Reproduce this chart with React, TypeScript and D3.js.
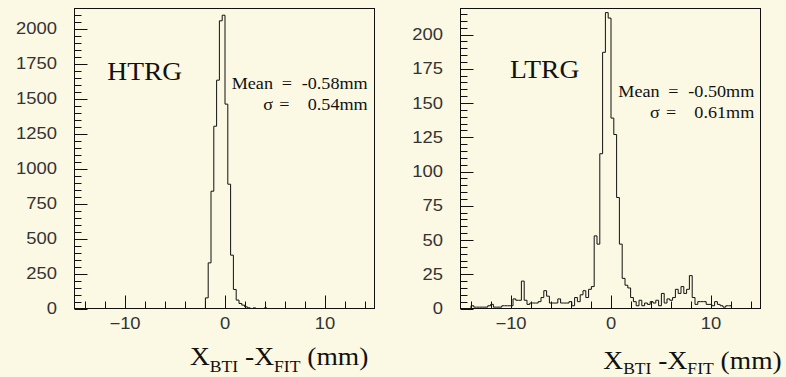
import React from "react";
import * as d3 from "d3";

// ---- data ----
const BIN_WIDTH = 0.28; // mm
const htrgStart = -1.91;
const htrgCounts = [76, 326, 838, 1302, 1631, 2055, 2095, 1460, 888, 381, 136, 60, 36, 24, 12, 5, 0, 4, 0, 0, 0, 4];
const ltrgStart = -13.95;
const ltrgCounts = [
  2, 1, 1, 1, 1, 1, 2, 3, 1, 1,
  1, 2, 2, 2, 2, 7, 6, 6, 20, 6,
  3, 4, 4, 4, 5, 8, 13, 9, 4, 4,
  4, 7, 4, 4, 4, 5, 2, 8, 5, 10,
  13, 8, 14, 16, 53, 47, 113, 187, 216, 212,
  139, 127, 81, 47, 22, 17, 15, 8, 5, 2,
  6, 2, 4, 3, 5, 4, 6, 2, 11, 4,
  7, 6, 8, 14, 11, 16, 11, 14, 24, 8,
  3, 5, 5, 5, 3, 3, 2, 5, 3, 2,
  1, 2, 2,
];
const xTicks = [-10, 0, 10];
const xTickLabels = ["\u221210", "0", "10"];
const htrgYTicks = [0, 250, 500, 750, 1000, 1250, 1500, 1750, 2000];
const ltrgYTicks = [0, 25, 50, 75, 100, 125, 150, 175, 200];
const panelTitles = ["HTRG", "LTRG"];
const meanLabels = ["-0.58mm", "-0.50mm"];
const sigmaLabels = ["0.54mm", "0.61mm"];

const BG = "#fbf9e3";
const INK = "#111";
const SERIF = "'Liberation Serif', 'Times New Roman', serif";
const SANS = "'Liberation Sans', Arial, sans-serif";
const SX = 1.1; // horizontal stretch of reference text

type PanelProps = {
  left: number;
  yMax: number;
  yMajor: number;
  yMinor: number;
  yTicks: number[];
  start: number;
  counts: number[];
  title: string;
  titlePos: [number, number];
  statX: number;
  statY: number;
  mean: string;
  sigma: string;
  axisTitlePos: [number, number];
  subShift: number;
};

function Panel(p: PanelProps) {
  const top = 8.5;
  const bottom = 308.5;
  const x = d3.scaleLinear().domain([-15, 15]).range([p.left, p.left + 300]);
  const y = d3.scaleLinear().domain([0, p.yMax]).range([bottom, top]);

  const path = d3.path();
  path.moveTo(x(p.start), y(0));
  p.counts.forEach((c, i) => {
    const x0 = p.start + i * BIN_WIDTH;
    path.lineTo(x(x0), y(c));
    path.lineTo(x(x0 + BIN_WIDTH), y(c));
  });
  path.lineTo(x(p.start + p.counts.length * BIN_WIDTH), y(0));

  const yMinorTicks = d3.range(0, p.yMax + 1e-6, p.yMinor);
  const xMinorTicks = d3.range(-14, 14.001, 2);

  return (
    <g>
      {/* histogram */}
      <path d={path.toString()} fill="none" stroke={INK} strokeWidth={1} />
      {/* frame */}
      <rect x={p.left} y={top} width={300} height={bottom - top} fill="none" stroke={INK} strokeWidth={1} />
      {/* y ticks */}
      {yMinorTicks.map((v) => {
        const major = Math.abs(v / p.yMajor - Math.round(v / p.yMajor)) < 1e-6;
        return (
          <line key={"yt" + v} x1={p.left} x2={p.left + (major ? 13 : 7)} y1={Math.round(y(v)) + 0.5} y2={Math.round(y(v)) + 0.5} stroke={INK} strokeWidth={1} />
        );
      })}
      {/* x ticks */}
      {xMinorTicks.map((v) => {
        const major = v % 10 === 0;
        return (
          <line key={"xt" + v} x1={Math.round(x(v)) + 0.5} x2={Math.round(x(v)) + 0.5} y1={bottom} y2={bottom - (major ? 13 : 7)} stroke={INK} strokeWidth={1} />
        );
      })}
      {/* y labels */}
      {p.yTicks.map((v) => (
        <g key={"yl" + v} transform={`translate(${p.left - 17.5},${y(v) + 5.5}) scale(1.15,1)`}>
          <text textAnchor="end" fontFamily={SANS} fontSize={16} fill="#333">{v}</text>
        </g>
      ))}
      {/* x labels */}
      {xTicks.map((v, i) => (
        <g key={"xl" + v} transform={`translate(${x(v) + 0.5},328.5) scale(1.15,1)`}>
          <text textAnchor="middle" fontFamily={SANS} fontSize={16} fill="#333">{xTickLabels[i]}</text>
        </g>
      ))}
      {/* panel title */}
      <g transform={`translate(${p.titlePos[0]},${p.titlePos[1]}) scale(${SX},1)`}>
        <text fontFamily={SERIF} fontSize={25} fill={INK}>{p.title}</text>
      </g>
      {/* stats */}
      <g fontFamily={SERIF} fontSize={16.5} fill={INK}>
        <g transform={`translate(${p.statX},${p.statY}) scale(${SX},1)`}>
          <text>Mean</text>
        </g>
        <g transform={`translate(${p.statX + 50},${p.statY}) scale(${SX},1)`}>
          <text>=</text>
        </g>
        <g transform={`translate(${p.statX + 136},${p.statY}) scale(${SX},1)`}>
          <text textAnchor="end">{p.mean}</text>
        </g>
        <g transform={`translate(${p.statX + 31.6},${p.statY + 21}) scale(${SX},1)`}>
          <text>σ</text>
        </g>
        <g transform={`translate(${p.statX + 47.6},${p.statY + 21}) scale(${SX},1)`}>
          <text>=</text>
        </g>
        <g transform={`translate(${p.statX + 136},${p.statY + 21}) scale(${SX},1)`}>
          <text textAnchor="end">{p.sigma}</text>
        </g>
      </g>
      {/* axis title */}
      <g transform={`translate(${p.axisTitlePos[0]},${p.axisTitlePos[1]}) scale(${SX},1)`}>
        <text fontFamily={SERIF} fontSize={25} fill={INK}>
          X<tspan fontSize={16} dy={p.subShift}>BTI</tspan>
          <tspan dy={-p.subShift}> -X</tspan>
          <tspan fontSize={16} dy={p.subShift}>FIT</tspan>
          <tspan dy={-p.subShift}> (mm)</tspan>
        </text>
      </g>
    </g>
  );
}

export default function App() {
  return (
    <svg width={786} height={377} style={{ position: "absolute", left: 0, top: 0, display: "block" }}>
      <rect x={0} y={0} width={786} height={377} fill={BG} />
      <Panel
        left={74.5}
        yMax={2143}
        yMajor={250}
        yMinor={50}
        yTicks={htrgYTicks}
        start={htrgStart}
        counts={htrgCounts}
        title={panelTitles[0]}
        titlePos={[107.3, 80]}
        statX={231.7}
        statY={89.3}
        mean={meanLabels[0]}
        sigma={sigmaLabels[0]}
        axisTitlePos={[190, 365]}
        subShift={6.5}
      />
      <Panel
        left={460.5}
        yMax={219}
        yMajor={25}
        yMinor={5}
        yTicks={ltrgYTicks}
        start={ltrgStart}
        counts={ltrgCounts}
        title={panelTitles[1]}
        titlePos={[510, 78.3]}
        statX={618.3}
        statY={96.7}
        mean={meanLabels[1]}
        sigma={sigmaLabels[1]}
        axisTitlePos={[603.3, 368.5]}
        subShift={5}
      />
    </svg>
  );
}
